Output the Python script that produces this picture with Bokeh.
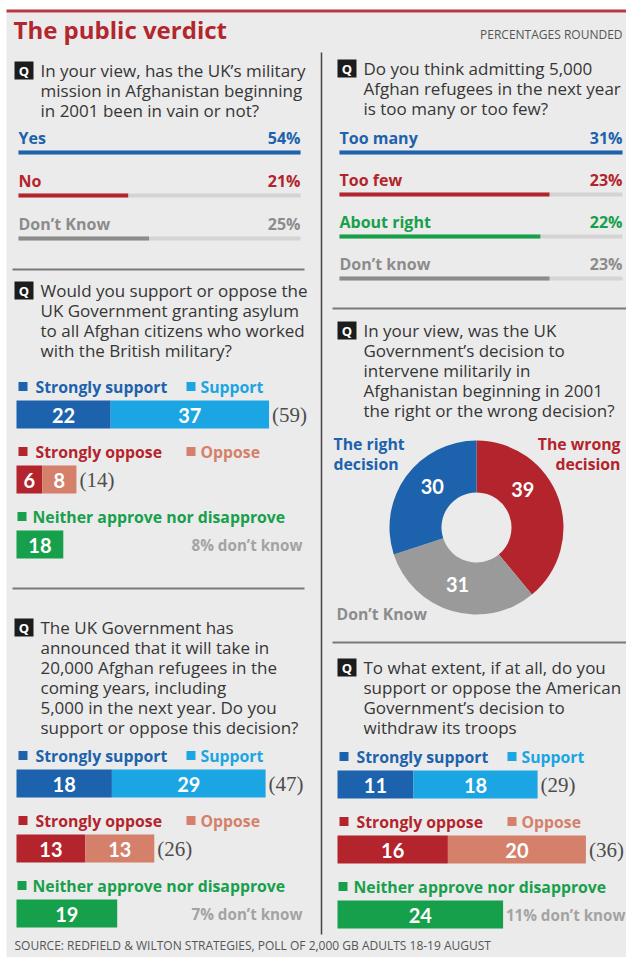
import numpy as np
from bokeh.plotting import figure
from bokeh.models import Range1d
from bokeh.core.properties import value
from bokeh.embed import file_html
from bokeh.resources import INLINE

# ---------------- data ----------------
title = "The public verdict"
note = "PERCENTAGES ROUNDED"
source = "SOURCE: REDFIELD & WILTON STRATEGIES, POLL OF 2,000 GB ADULTS 18-19 AUGUST"

q1_text = ["In your view, has the UK\u2019s military",
           "mission in Afghanistan beginning",
           "in 2001 been in vain or not?"]
q1_labels = ["Yes", "No", "Don\u2019t Know"]
q1_values = [54, 21, 25]

q2_text = ["Would you support or oppose the",
           "UK Government granting asylum",
           "to all Afghan citizens who worked",
           "with the British military?"]
q2_support = [22, 37]
q2_oppose = [6, 8]
q2_neither = [18]
q2_dont_know = 8

q3_text = ["The UK Government has",
           "announced that it will take in",
           "20,000 Afghan refugees in the",
           "coming years, including",
           "5,000 in the next year. Do you",
           "support or oppose this decision?"]
q3_support = [18, 29]
q3_oppose = [13, 13]
q3_neither = [19]
q3_dont_know = 7

q4_text = ["Do you think admitting 5,000",
           "Afghan refugees in the next year",
           "is too many or too few?"]
q4_labels = ["Too many", "Too few", "About right", "Don\u2019t know"]
q4_values = [31, 23, 22, 23]

q5_text = ["In your view, was the UK",
           "Government\u2019s decision to",
           "intervene militarily in",
           "Afghanistan beginning in 2001",
           "the right or the wrong decision?"]
q5_labels = ["The wrong decision", "Don\u2019t Know", "The right decision"]
q5_values = [39, 31, 30]

q6_text = ["To what extent, if at all, do you",
           "support or oppose the American",
           "Government\u2019s decision to",
           "withdraw its troops"]
q6_support = [11, 18]
q6_oppose = [16, 20]
q6_neither = [24]
q6_dont_know = 11

legend_support = ["Strongly support", "Support"]
legend_oppose = ["Strongly oppose", "Oppose"]
legend_neither = ["Neither approve nor disapprove"]

# ---------------- style ----------------
BG = "#ebebeb"
TITLE_RED = "#b3262d"
TXT = "#363636"
BLUE = "#1d62ad"
LBLUE = "#1ba5e3"
RED = "#b3242c"
SALMON = "#d4806b"
GREEN = "#17a04b"
GREY = "#8c8c8c"
TRACK = "#d4d4d4"
DONUT_GREY = "#9a9a9a"
DK_TXT = "#a3a3a3"
FONT = "Open Sans"
NUMFONT = "Lato"

W, H = 626, 957


def fs(n):
    return value(f"{n:.1f}px")


def Y(v):
    return H - v


p = figure(width=W, height=H, output_backend="svg", toolbar_location=None,
           x_range=Range1d(0, W), y_range=Range1d(0, H),
           min_border=0, background_fill_color="white", border_fill_color="white")
p.axis.visible = False
p.grid.visible = False
p.outline_line_color = None


def txt(x, y, s, size, color, bold=False, align="left", base="middle", font=FONT):
    p.text(x=[x], y=[Y(y)], text=[s], text_font=value(font), text_font_size=fs(size),
           text_font_style="bold" if bold else "normal", text_color=color,
           text_align=align, text_baseline=base)


def box(l, r, t, b, color):
    p.quad(left=[l], right=[r], top=[Y(t)], bottom=[Y(b)], fill_color=color, line_color=None)


# background + header
box(6, 626, 12, 960, BG)
box(6, 626, 9, 12, "#b8393e")
txt(13, 29, title, 24, TITLE_RED, bold=True)
txt(622, 34, note, 12, "#555555", align="right")
txt(14, 945, source, 12, "#555555")

# dividers
p.segment(x0=[321], y0=[Y(52)], x1=[321], y1=[Y(934)], line_color="#444444", line_width=1.5)
p.segment(x0=[12, 12, 332, 332], y0=[Y(269), Y(588), Y(308), Y(642)],
          x1=[304, 304, 626, 626], y1=[Y(269), Y(588), Y(308), Y(642)],
          line_color="#7a7a7a", line_width=2)


def question(xb, y0, lines, spacing=20):
    box(xb, xb + 19, y0 - 9, y0 + 9, "#1c1c1c")
    txt(xb + 9.5, y0 + 0.5, "Q", 13, "white", bold=True, align="center")
    for i, s in enumerate(lines):
        txt(xb + 26, y0 + i * spacing, s, 17, TXT)


def line_rows(x0, x1, y0, spacing, labels, values, colors):
    vmax = max(values)
    for i, (lab, v, c) in enumerate(zip(labels, values, colors)):
        yl = y0 + i * spacing
        yb = yl + 15
        box(x0, x1, yb - 2, yb + 2, TRACK)
        box(x0, x0 + v / vmax * (x1 - x0), yb - 2, yb + 2, c)
        txt(x0, yl, lab, 16, c, bold=True)
        txt(x1, yl, f"{v}%", 16, c, bold=True, align="right")


def stacked(x0, y0, data, scale, neither_scale, dk, dk_right, spacing=65):
    sup, opp, nei = data
    groups = [(legend_support, sup, [BLUE, LBLUE], scale),
              (legend_oppose, opp, [RED, SALMON], scale),
              (legend_neither, nei, [GREEN], neither_scale)]
    for gi, (names, vals, cols, sc) in enumerate(groups):
        yl = y0 + gi * spacing
        for k, name in enumerate(names):
            sx = x0 + 2 + k * 168
            if len(names) == 1:
                sx -= 1
            box(sx, sx + 9, yl - 4.5, yl + 4.5, cols[k])
            txt(sx + (17 if k == 0 else 14) - (2 if len(names) == 1 else 0), yl, name, 15.8,
                cols[k], bold=True)
        top, bot = yl + 14, yl + 42
        cum = np.concatenate([[0], np.cumsum(vals)])
        lefts = x0 + cum[:-1] * sc
        rights = x0 + cum[1:] * sc
        p.quad(left=list(lefts), right=list(rights), top=[Y(top)] * len(vals),
               bottom=[Y(bot)] * len(vals), fill_color=cols, line_color=None)
        p.text(x=list((lefts + rights) / 2), y=[Y((top + bot) / 2 + 1)] * len(vals),
               text=[str(v) for v in vals], text_font=value(NUMFONT), text_font_size=fs(20),
               text_font_style="bold", text_color="white", text_align="center",
               text_baseline="middle")
        if len(vals) > 1:
            txt(rights[-1] + 3, (top + bot) / 2, f"({int(cum[-1])})", 21, "#4d4d4d",
                font="Liberation Serif")
        else:
            txt(dk_right, (top + bot) / 2, f"{dk}% don\u2019t know", 15.2, DK_TXT, bold=True,
                align="right")


# ---- left column ----
question(14, 70, q1_text)
line_rows(18, 300, 137, 43, q1_labels, q1_values, [BLUE, RED, GREY])

question(14, 290, q2_text)
stacked(16, 386, (q2_support, q2_oppose, q2_neither), 4.28, 2.6, q2_dont_know, 302)

question(14, 627, q3_text)
stacked(16, 755, (q3_support, q3_oppose, q3_neither), 5.3, 5.3, q3_dont_know, 302)

# ---- right column ----
question(337, 68, q4_text)
line_rows(339, 622, 137, 42, q4_labels, q4_values, [BLUE, RED, GREEN, GREY])

question(337, 330, q5_text)
cx, cy, r_out, r_in = 476, 527, 87, 35
cols5 = [RED, DONUT_GREY, BLUE]
cum5 = np.concatenate([[0], np.cumsum(q5_values)]) / sum(q5_values)
ends = np.pi / 2 - cum5[:-1] * 2 * np.pi
starts = np.pi / 2 - cum5[1:] * 2 * np.pi
p.annular_wedge(x=[cx] * 3, y=[Y(cy)] * 3, inner_radius=r_in, outer_radius=r_out,
                start_angle=list(starts), end_angle=list(ends), fill_color=cols5,
                line_color=None)
label_frac = [0.36, 0.52, 0.56]
r_lab = 60
for i, v in enumerate(q5_values):
    ang = ends[i] - label_frac[i] * (ends[i] - starts[i])
    p.text(x=[cx + r_lab * np.cos(ang)], y=[Y(cy) + r_lab * np.sin(ang)], text=[str(v)],
           text_font=value(NUMFONT), text_font_size=fs(20), text_font_style="bold",
           text_color="white", text_align="center", text_baseline="middle")
w1, w2 = q5_labels[0].rsplit(" ", 1)
txt(620, 443, w1, 15.8, RED, bold=True, align="right")
txt(620, 463, w2, 15.8, RED, bold=True, align="right")
r1, r2 = q5_labels[2].rsplit(" ", 1)
txt(333, 443, r1, 15.8, BLUE, bold=True)
txt(333, 463, r2, 15.8, BLUE, bold=True)
txt(336, 613, q5_labels[1], 15.8, GREY, bold=True)

question(337, 667, q6_text)
stacked(337, 756, (q6_support, q6_oppose, q6_neither), 6.9, 6.9, q6_dont_know, 625)

open("out.html", "w").write(file_html(p, INLINE))
